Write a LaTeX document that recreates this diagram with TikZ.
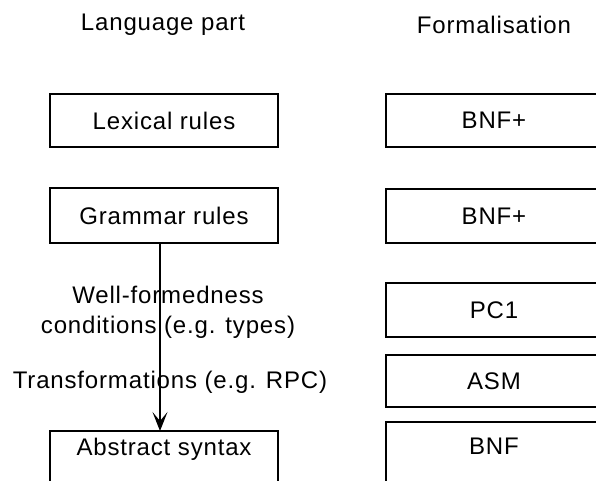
\documentclass[tikz,border=0pt]{standalone}
\usepackage{fontspec}
\setmainfont{Liberation Sans}[LetterSpace=3.5]
\usetikzlibrary{arrows.meta}
\begin{document}
\begin{tikzpicture}[x=1pt,y=-1pt,
  box/.style={draw,line width=1.2pt},
  lbl/.style={font=\fontsize{24}{30}\selectfont,inner sep=0pt,align=center},
  flow/.style={line width=1.2pt,-{Stealth[length=19pt,width=15pt,inset=9pt]}}]
\useasboundingbox (0,0) rectangle (596,481);
\clip (0,0) rectangle (596,481);
% headers
\node[lbl] (hl) at (163,25) {Language part};
\node[lbl] (hr) at (494,25) {Formalisation};
% left boxes
\draw[box] (50,94) rectangle (278,147);
\node[lbl] (lex) at (164,120.5) {Lexical rules};
\draw[box] (50,188) rectangle (278,243);
\node[lbl] (gram) at (164,215.5) {Grammar rules};
\draw[box] (50,431) rectangle (278,500);
\node[lbl] (abs) at (164,449) {Abstract syntax};
% right boxes
\draw[box] (386,94) rectangle (602,147);
\node[lbl] (f1) at (494,120.5) {BNF+};
\draw[box] (386,189) rectangle (602,243);
\node[lbl] (f2) at (494,216) {BNF+};
\draw[box] (386,283) rectangle (602,337);
\node[lbl] (f3) at (494,310) {PC1};
\draw[box] (386,355) rectangle (602,407);
\node[lbl] (f4) at (494,381) {ASM};
\draw[box] (386,422) rectangle (602,500);
\node[lbl] (f5) at (494,446) {BNF};
% middle labels
\node[lbl] (wf) at (168,312) {Well-formedness\\conditions (e.g. types)};
\node[lbl] (tr) at (170,382) {Transformations (e.g. RPC)};
% arrow
\coordinate (as) at (160,243);
\coordinate (ae) at (160,431);
\draw[flow] (as) -- (ae);
\end{tikzpicture}
\end{document}
